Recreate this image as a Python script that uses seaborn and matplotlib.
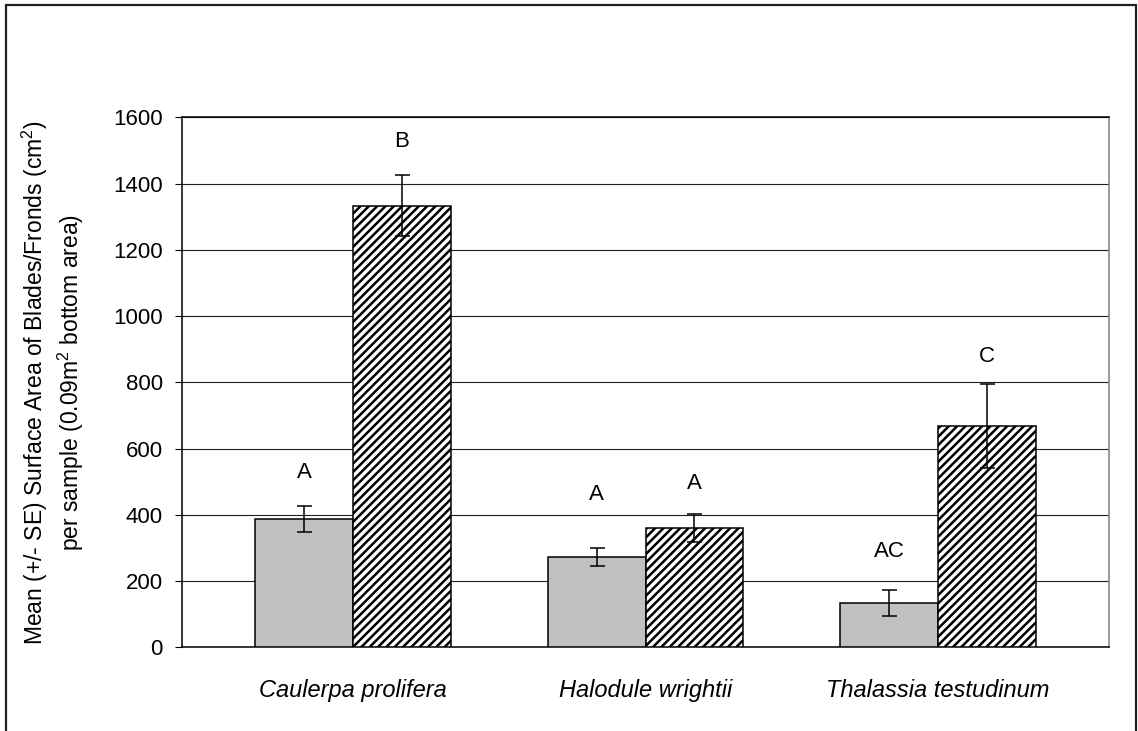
import pandas as pd
import seaborn as sns
from matplotlib import pyplot as plt
from matplotlib.patches import Rectangle

sns.set_style('white')
plt.rcParams['font.family'] = ['Liberation Sans', 'DejaVu Sans']
plt.rcParams['mathtext.fontset'] = 'custom'
plt.rcParams['mathtext.rm'] = 'Liberation Sans'
plt.rcParams['hatch.linewidth'] = 1.8
plt.rcParams['text.color'] = 'black'
plt.rcParams['axes.labelcolor'] = 'black'
plt.rcParams['xtick.color'] = 'black'
plt.rcParams['ytick.color'] = 'black'

# data
species = ['Caulerpa prolifera', 'Halodule wrightii', 'Thalassia testudinum']
groups = ['gray', 'hatched']
mean_gray = [388, 274, 135]
mean_hatched = [1333, 360, 668]
se_gray = [40, 27, 39]
se_hatched = [92, 43, 126]
letters_gray = ['A', 'A', 'AC']
letters_hatched = ['B', 'A', 'C']
letter_y_gray = [527, 460, 289]
letter_y_hatched = [1527, 496, 879]

df = pd.DataFrame({
    'species': species * 2,
    'group': [groups[0]] * 3 + [groups[1]] * 3,
    'mean': mean_gray + mean_hatched,
    'se': se_gray + se_hatched,
    'letter': letters_gray + letters_hatched,
    'letter_y': letter_y_gray + letter_y_hatched,
})

fig = plt.figure(figsize=(11.38, 7.31), dpi=100)
ax = fig.add_axes([0.160, 0.1145, 0.8145, 0.7248])

sns.barplot(data=df, x='species', y='mean', hue='group', ax=ax,
            palette={'gray': '#C0C0C0', 'hatched': 'white'},
            edgecolor='black', linewidth=1.1, width=0.668,
            errorbar=None, legend=False, zorder=3)

# hatch the second group, add error bars and letters
bars = [p for p in ax.patches if p.get_height() > 0]
for i, p in enumerate(bars):
    row = df.iloc[i]
    xc = p.get_x() + p.get_width() / 2
    if row['group'] == 'hatched':
        p.set_hatch('////')
    ax.errorbar(xc, row['mean'], yerr=row['se'], fmt='none', ecolor='black',
                elinewidth=1.1, capsize=5.4, capthick=1.1, zorder=4)
    ax.text(xc, row['letter_y'], row['letter'], ha='center', va='center',
            fontsize=16)

ax.set_ylim(0, 1600)
ax.set_xlim(-0.585, 2.585)
ax.set_yticks(range(0, 1601, 200))
ax.yaxis.grid(True, color='#202020', linewidth=0.8, zorder=0)
ax.set_axisbelow(True)
ax.tick_params(axis='y', direction='out', length=5, width=0.8, pad=9,
               labelsize=16, left=True)
ax.tick_params(axis='x', length=0, pad=23, labelsize=17)
for lab in ax.get_xticklabels():
    lab.set_style('italic')

for side in ['left', 'bottom', 'top']:
    ax.spines[side].set_color('black')
    ax.spines[side].set_linewidth(1.1)
ax.spines['right'].set_color('#808080')
ax.spines['right'].set_linewidth(1.1)

ax.set_xlabel('')
ax.set_ylabel('Mean (+/- SE) Surface Area of Blades/Fronds (cm$^2$)\n'
              'per sample (0.09m$^2$ bottom area)',
              fontsize=16.5, linespacing=1.25)
ax.yaxis.set_label_coords(-0.104, 0.5)

# outer chart frame
fig.patches.append(Rectangle((6 / 1138, -0.05), 1130 / 1138, 0.05 + 726 / 731,
                             transform=fig.transFigure, fill=False,
                             edgecolor='#202020', linewidth=1.6))

plt.savefig('out.png', dpi=100)
